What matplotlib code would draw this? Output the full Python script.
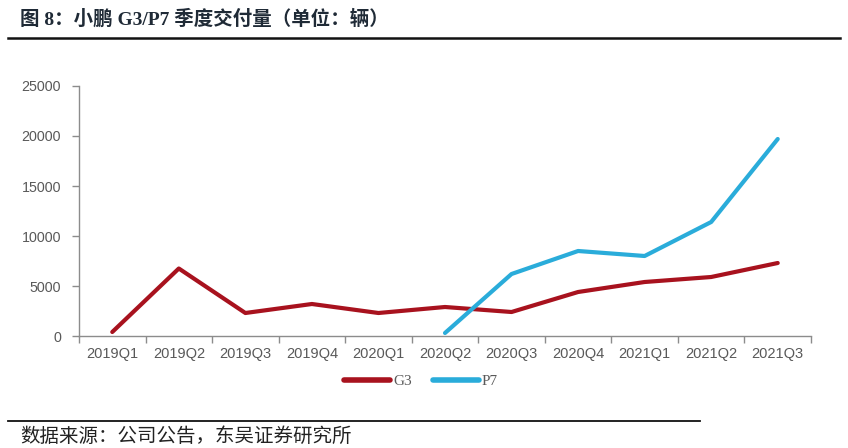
import matplotlib
matplotlib.use("Agg")
import matplotlib.pyplot as plt
from matplotlib.lines import Line2D

quarters = ["2019Q1", "2019Q2", "2019Q3", "2019Q4", "2020Q1", "2020Q2",
            "2020Q3", "2020Q4", "2021Q1", "2021Q2", "2021Q3"]
g3 = [400, 6750, 2300, 3200, 2300, 2900, 2400, 4400, 5400, 5900, 7300]
p7_quarters = ["2020Q2", "2020Q3", "2020Q4", "2021Q1", "2021Q2", "2021Q3"]
p7 = [300, 6200, 8500, 8000, 11400, 19700]
yticks = [0, 5000, 10000, 15000, 20000, 25000]

RED = "#A8121E"
BLUE = "#2AACDA"
GRAY = "#595959"
AX = "#8c8c8c"

fig = plt.figure(figsize=(8.48, 4.48), dpi=100)
ax = fig.add_axes([79/848, 1-336/448, (811-79)/848, (336-86)/448])

xi = list(range(len(quarters)))
pi = [quarters.index(q) for q in p7_quarters]
ax.plot(xi, g3, color=RED, lw=3.0, solid_capstyle="round", solid_joinstyle="round", zorder=3)
ax.plot(pi, p7, color=BLUE, lw=3.0, solid_capstyle="round", solid_joinstyle="round", zorder=3)

ax.set_xlim(-0.5, len(quarters) - 0.5)
ax.set_ylim(0, 25000)
ax.set_yticks(yticks)
ax.set_yticklabels([str(v) for v in yticks])
ax.set_xticks(xi)
ax.set_xticklabels(quarters)
ax.tick_params(axis="x", length=0, pad=8, labelsize=10.5, labelcolor=GRAY)
ax.set_xticks([i - 0.5 for i in range(len(quarters) + 1)], minor=True)
ax.tick_params(axis="x", which="minor", length=5, color=AX, width=1, direction="out")
ax.tick_params(axis="y", length=5, color=AX, width=1, direction="out", pad=8,
               labelsize=10.3, labelcolor=GRAY)
for lbl in ax.get_xticklabels() + ax.get_yticklabels():
    lbl.set_family("Liberation Sans")
for s in ["top", "right"]:
    ax.spines[s].set_visible(False)
for s in ["left", "bottom"]:
    ax.spines[s].set_color(AX)
    ax.spines[s].set_linewidth(1)

handles = [Line2D([], [], color=RED, lw=4, solid_capstyle="round"),
           Line2D([], [], color=BLUE, lw=4, solid_capstyle="round")]
leg = fig.legend(handles, ["G3", "P7"], loc="center", bbox_to_anchor=(421/848, 1-381/448),
                 ncol=2, frameon=False, handlelength=3.0, handletextpad=0.2, columnspacing=1.4,
                 prop={"family": "Liberation Serif", "size": 11})
for t in leg.get_texts():
    t.set_color(GRAY)

fig.text(20/848, 1-19/448, "图 8：小鹏 G3/P7 季度交付量（单位：辆）", ha="left", va="center",
         fontsize=14, fontweight="bold", color="#1f2a36",
         family=["Liberation Serif", "Noto Sans CJK SC"])
fig.add_artist(Line2D([8/848, 840/848], [1-38/448, 1-38/448], color="#111111", lw=1.8))
fig.add_artist(Line2D([8/848, 700/848], [1-421/448, 1-421/448], color="#111111", lw=1.3))
fig.text(20/848, 1-436/448, "数据来源：公司公告，东吴证券研究所", ha="left", va="center",
         fontsize=14, color="#222222", family=["Noto Sans CJK SC", "DejaVu Sans"])

fig.savefig("out.png", dpi=100)
